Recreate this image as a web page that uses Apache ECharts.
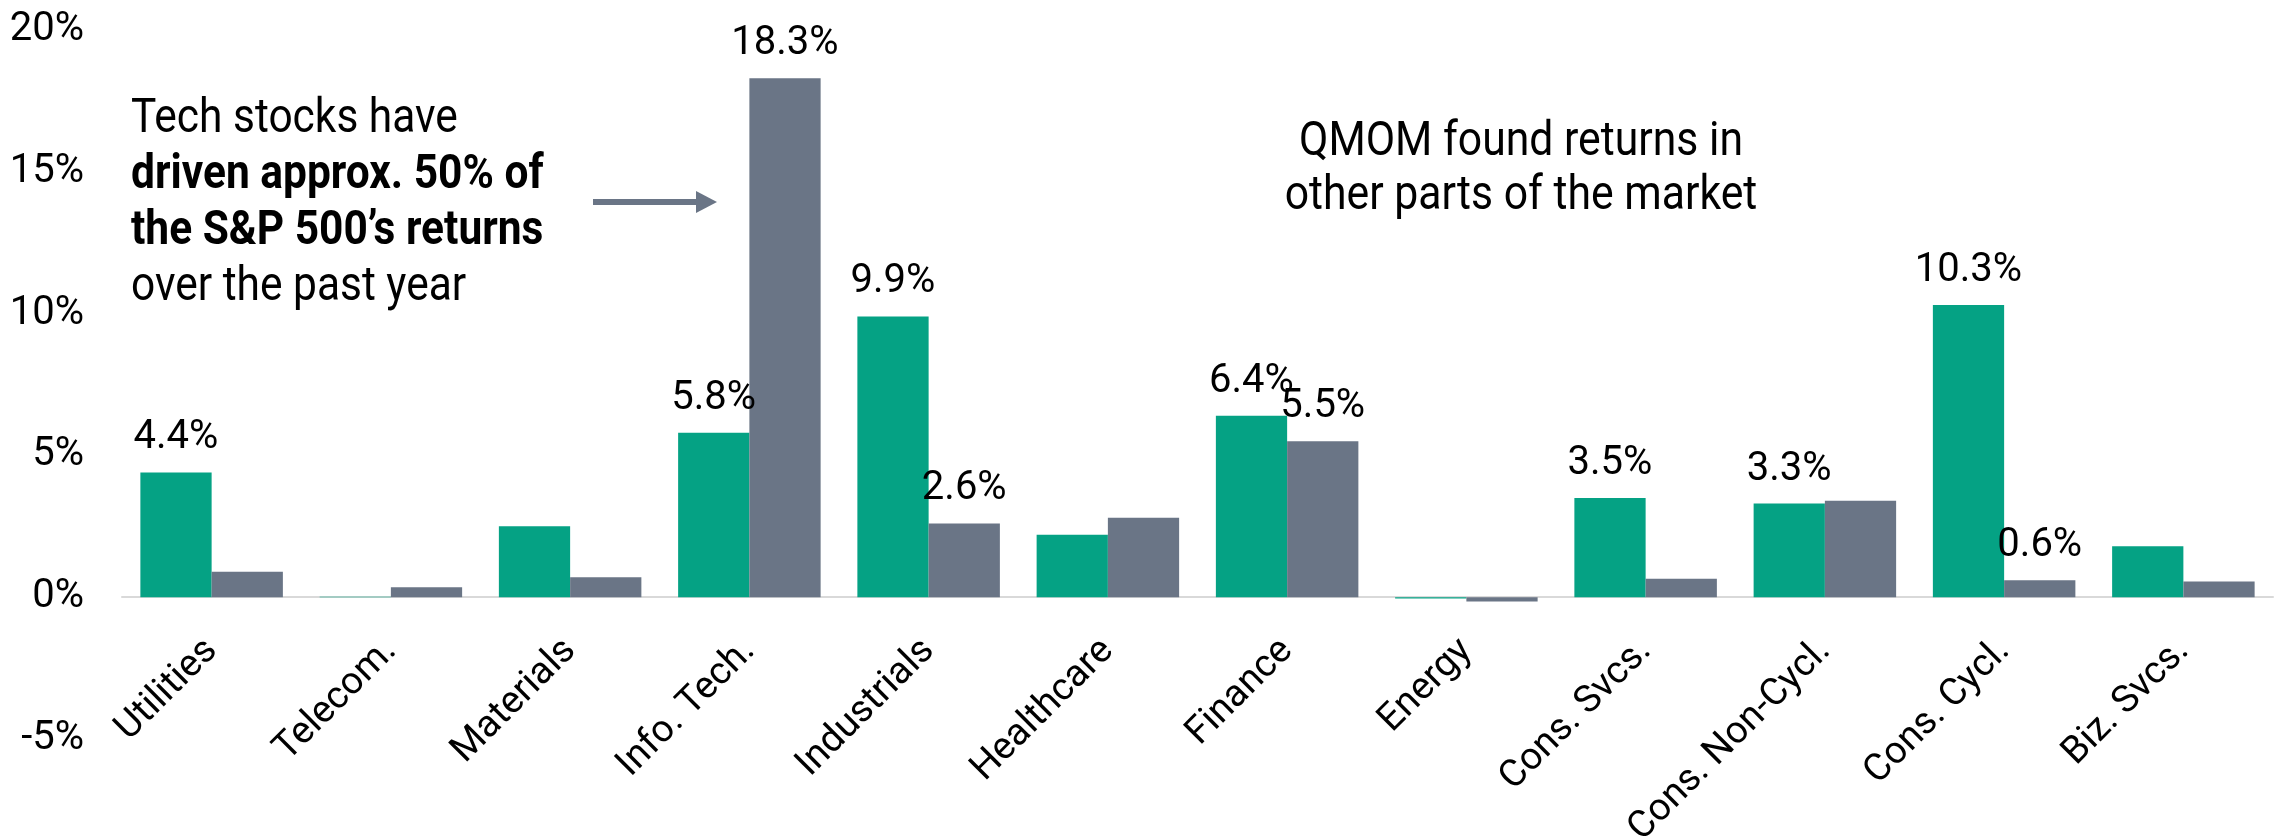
<!DOCTYPE html>
<html>
<head>
<meta charset="utf-8">
<title>Sector returns</title>
<script src="https://cdn.jsdelivr.net/npm/echarts@6/dist/echarts.min.js"></script>
<style>
  html, body { margin: 0; padding: 0; background: #fff; }
  #main { width: 2278px; height: 837px; }
</style>
</head>
<body>
<div id="main"></div>
<script>
// sectors on the x axis
var sectors = ['Utilities', 'Telecom.', 'Materials', 'Info. Tech.', 'Industrials', 'Healthcare',
  'Finance', 'Energy', 'Cons. Svcs.', 'Cons. Non-Cycl.', 'Cons. Cycl.', 'Biz. Svcs.']

// green bars - QMOM return by sector (%)
var qmomValues = [4.4, 0.02, 2.5, 5.8, 9.9, 2.2, 6.4, -0.05, 3.5, 3.3, 10.3, 1.8]
// gray bars - S&P 500 return by sector (%)
var spxValues = [0.9, 0.35, 0.7, 18.3, 2.6, 2.8, 5.5, -0.15, 0.65, 3.4, 0.6, 0.55]

// only some bars get a value label
var qmomLabeled = [1, 0, 0, 1, 1, 0, 1, 0, 1, 1, 1, 0]
var spxLabeled = [0, 0, 0, 1, 1, 0, 1, 0, 0, 0, 1, 0]

// y axis ticks
var yMin = -5
var yMax = 20
var yStep = 5

var font = "Roboto, sans-serif"
var green = '#05a284'
var gray = '#6a7586'

var gridTop = 30
var gridBottom = 98
var gridHeight = 837 - gridTop - gridBottom
// category labels sit on the zero line, not at the bottom of the grid
var zeroOffset = -gridHeight * (0 - yMin) / (yMax - yMin)

function withLabels(values, flags) {
  return values.map(function (v, i) {
    return { value: v, label: { show: !!flags[i] } }
  })
}

function barLabel() {
  return {
    show: false,
    position: 'top',
    distance: 14,
    color: '#000',
    fontSize: 40,
    fontFamily: font,
    formatter: function (p) { return p.value.toFixed(1) + '%' }
  }
}

var chart = echarts.init(document.getElementById('main'), null, { renderer: 'canvas' })

var option = {
  backgroundColor: '#fff',
  animation: false,
  grid: { left: 122, right: 5, top: gridTop, bottom: gridBottom, containLabel: false, outerBoundsMode: 'none' },
  xAxis: {
    type: 'category',
    data: sectors,
    offset: zeroOffset,
    axisLine: { onZero: false, lineStyle: { color: '#d9d9d9', width: 2 } },
    axisTick: { show: false },
    axisLabel: {
      interval: 0,
      rotate: 45,
      margin: 48,
      color: '#000',
      fontSize: 38,
      fontFamily: font
    }
  },
  yAxis: {
    type: 'value',
    min: yMin,
    max: yMax,
    interval: yStep,
    axisLine: { show: false },
    axisTick: { show: false },
    splitLine: { show: false },
    axisLabel: {
      margin: 38,
      color: '#000',
      fontSize: 40,
      fontFamily: font,
      formatter: '{value}%'
    }
  },
  series: [
    {
      name: 'QMOM',
      type: 'bar',
      barGap: 0,
      barCategoryGap: '20.5%',
      itemStyle: { color: green },
      label: barLabel(),
      data: withLabels(qmomValues, qmomLabeled)
    },
    {
      name: 'S&P 500',
      type: 'bar',
      barGap: 0,
      barCategoryGap: '20.5%',
      itemStyle: { color: gray },
      label: barLabel(),
      data: withLabels(spxValues, spxLabeled)
    }
  ],
  graphic: [
    {
      type: 'text',
      x: 131,
      y: 92,
      scaleX: 0.885,
      style: {
        text: '{r|Tech stocks have}\n{b|driven approx. 50% of}\n{b|the S&P 500\u2019s returns}\n{r|over the past year}',
        fill: '#000',
        verticalAlign: 'top',
        rich: {
          r: { fontSize: 48, fontFamily: font, fill: '#000', lineHeight: 56 },
          b: { fontSize: 48, fontFamily: font, fontWeight: 'bold', fill: '#000', lineHeight: 56 }
        }
      }
    },
    {
      type: 'text',
      x: 1521,
      y: 116,
      scaleX: 0.89,
      style: {
        text: 'QMOM found returns in\nother parts of the market',
        fill: '#000',
        align: 'center',
        verticalAlign: 'top',
        fontSize: 48,
        lineHeight: 54,
        fontFamily: font
      }
    },
    // arrow pointing at the tech bar
    {
      type: 'line',
      shape: { x1: 593, y1: 202, x2: 700, y2: 202 },
      style: { stroke: gray, lineWidth: 6 }
    },
    {
      type: 'polygon',
      shape: { points: [[696, 191], [717, 202], [696, 213]] },
      style: { fill: gray }
    }
  ]
}

chart.setOption(option)
</script>
</body>
</html>
